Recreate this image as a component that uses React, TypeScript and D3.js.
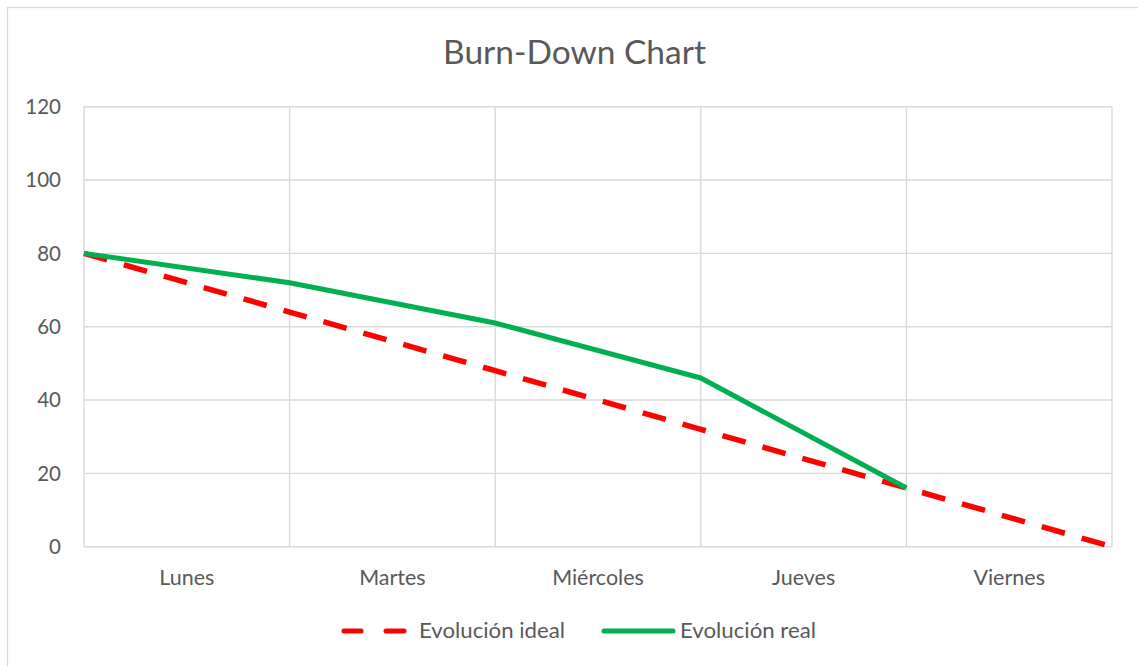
import React from "react";
import * as d3 from "d3";

const title = "Burn-Down Chart";
const categories = ["Lunes", "Martes", "Miércoles", "Jueves", "Viernes"];
const idealValues = [80, 64, 48, 32, 16, 0];
const realValues = [80, 72, 61, 46, 16];
const yTicks = [0, 20, 40, 60, 80, 100, 120];
const seriesNames = ["Evolución ideal", "Evolución real"];

const W = 1138;
const H = 666;
const FONT = "Lato, 'Open Sans', sans-serif";
const TEXT = "#595959";
const GRID = "#d9d9d9";
const RED = "#ff0000";
const GREEN = "#00b050";

export default function App() {
  const x = d3.scaleLinear().domain([0, categories.length]).range([84, 1112]);
  const y = d3.scaleLinear().domain([0, 120]).range([546.7, 106.7]);
  const line = d3
    .line<number>()
    .x((_, i) => x(i))
    .y((d) => y(d));

  const vlines = d3.range(categories.length + 1);

  return (
    <svg
      width={W}
      height={H}
      style={{ position: "absolute", left: 0, top: 0, background: "#fff" }}
      fontFamily={FONT}
    >
      <rect x={7.5} y={7.5} width={1134} height={662} fill="#fff" stroke={GRID} strokeWidth={1.3} />
      <text x={574.5} y={63.5} textAnchor="middle" fontSize={33.5} fill={TEXT}>
        {title}
      </text>
      {yTicks.map((t) => (
        <line key={"h" + t} x1={84} x2={1112} y1={y(t)} y2={y(t)} stroke={GRID} strokeWidth={1.4} />
      ))}
      {vlines.map((i) => (
        <line key={"v" + i} x1={x(i)} x2={x(i)} y1={y(120)} y2={y(0)} stroke={GRID} strokeWidth={1.4} />
      ))}
      {yTicks.map((t) => (
        <text key={"yt" + t} x={61} y={y(t)} dy="0.35em" textAnchor="end" fontSize={20.5} fill={TEXT}>
          {t}
        </text>
      ))}
      {categories.map((c, i) => (
        <text key={c} x={x(i + 0.5)} y={585} textAnchor="middle" fontSize={21.5} fill={TEXT}>
          {c}
        </text>
      ))}
      <path d={line(idealValues) || ""} fill="none" stroke={RED} strokeWidth={5.5} strokeDasharray="24 17.5" />
      <path d={line(realValues) || ""} fill="none" stroke={GREEN} strokeWidth={5} strokeLinejoin="round" />
      <g>
        <line x1={344} x2={361} y1={631} y2={631} stroke={RED} strokeWidth={5} strokeLinecap="round" />
        <line x1={386} x2={404} y1={631} y2={631} stroke={RED} strokeWidth={5} strokeLinecap="round" />
        <text x={419} y={638} fontSize={21.5} fill={TEXT} textLength={146} lengthAdjust="spacingAndGlyphs">
          {seriesNames[0]}
        </text>
        <line x1={604} x2={673} y1={631} y2={631} stroke={GREEN} strokeWidth={5} strokeLinecap="round" />
        <text x={680} y={638} fontSize={21.5} fill={TEXT} textLength={136} lengthAdjust="spacingAndGlyphs">
          {seriesNames[1]}
        </text>
      </g>
    </svg>
  );
}
